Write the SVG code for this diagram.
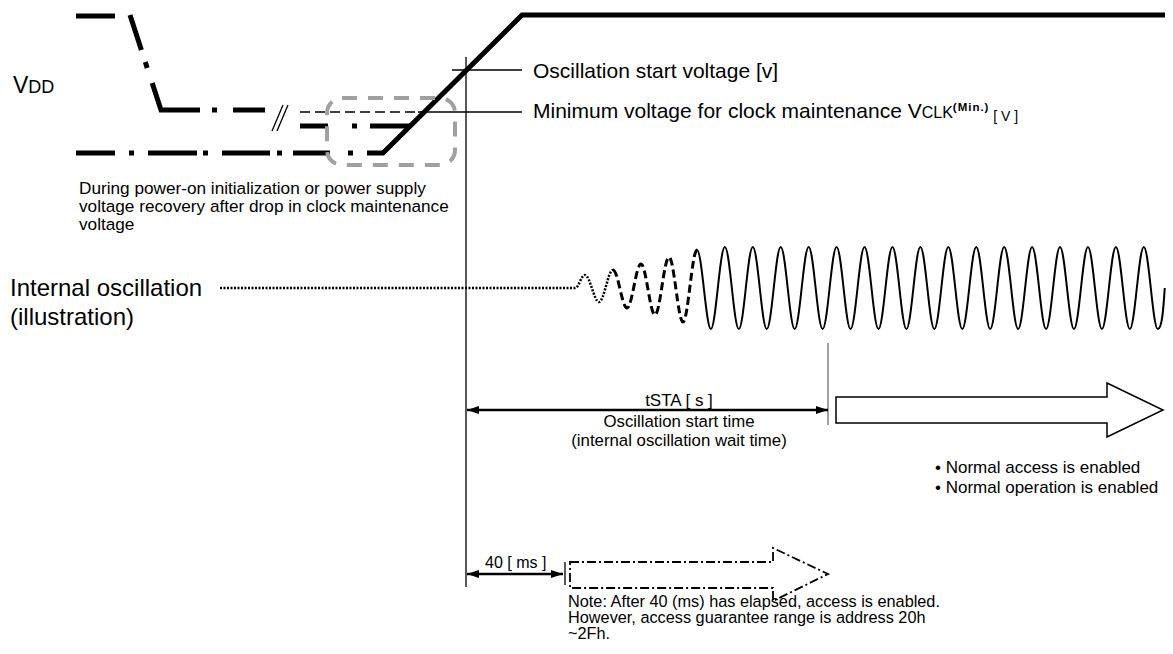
<svg xmlns="http://www.w3.org/2000/svg" width="1173" height="654" viewBox="0 0 1173 654">
<defs>
<style>
text{font-family:"Liberation Sans",Arial,sans-serif;fill:#000}
.thick{stroke:#000;stroke-width:5;fill:none;stroke-linecap:butt;stroke-linejoin:miter}
.thin{stroke:#000;stroke-width:1.3;fill:none}
.dim{stroke:#000;stroke-width:2.5;fill:none}
</style>
<marker id="ah" viewBox="0 0 12 8" refX="12" refY="4" markerWidth="12" markerHeight="8" markerUnits="userSpaceOnUse" orient="auto-start-reverse">
<path d="M0,0 L12,4 L0,8 Z" fill="#000"/>
</marker>
</defs>
<rect width="1173" height="654" fill="#fff"/>

<g id="vdd-waveform">
<line class="thick" x1="76" y1="16" x2="115" y2="16"/>
<line class="thick" x1="130" y1="15" x2="141.4" y2="50"/>
<line class="thick" x1="145.3" y1="62" x2="147.2" y2="68"/>
<path class="thick" d="M152.2,83 L161,110 L200,110"/>
<line class="thick" x1="212" y1="110" x2="217" y2="110"/>
<line class="thick" x1="233" y1="110" x2="265" y2="110"/>
<line class="thin" x1="272" y1="131" x2="283" y2="105"/>
<line class="thin" x1="277" y1="131" x2="288" y2="105"/>
<line class="thin" x1="300" y1="112" x2="424" y2="112" stroke-dasharray="10 5"/>
<line class="thick" x1="300" y1="126" x2="328" y2="126"/>
<line class="thick" x1="352" y1="126" x2="357" y2="126"/>
<line class="thick" x1="370" y1="126" x2="410" y2="126"/>
<line class="thick" x1="76" y1="153" x2="115" y2="153"/>
<line class="thick" x1="129" y1="153" x2="134" y2="153"/>
<line class="thick" x1="148" y1="153" x2="197" y2="153"/>
<line class="thick" x1="203" y1="153" x2="208" y2="153"/>
<line class="thick" x1="222" y1="153" x2="270" y2="153"/>
<line class="thick" x1="277" y1="153" x2="282" y2="153"/>
<line class="thick" x1="293" y1="153" x2="330" y2="153"/>
<line class="thick" x1="348" y1="153" x2="353" y2="153"/>
<path class="thick" d="M367,153 L383,153 L522,15 L1165,15"/>
<rect x="327" y="98" width="128" height="67" rx="15" ry="15" fill="none" stroke="#a0a0a0" stroke-width="4" stroke-dasharray="15 11"/>
<text x="13" y="93"><tspan font-size="23">V</tspan><tspan font-size="18">DD</tspan></text>
<text font-size="17.2"><tspan x="79" y="193.5">During power-on initialization or power supply</tspan><tspan x="79" y="211.5">voltage recovery after drop in clock maintenance</tspan><tspan x="79" y="229.5">voltage</tspan></text>
</g>

<g id="osc-start-label">
<text x="533" y="78" font-size="21">Oscillation start voltage [v]</text>
</g>
<g id="min-voltage-label">
<text x="533" y="118" font-size="21">Minimum voltage for clock maintenance V<tspan font-size="16">CLK</tspan><tspan font-size="11.5" font-weight="bold" dy="-7" letter-spacing="1">(Min.)</tspan><tspan font-size="14" dy="10"> [ V ]</tspan></text>
</g>

<g id="internal-oscillation">
<text font-size="24"><tspan x="10" y="296">Internal oscillation</tspan><tspan x="10" y="325">(illustration)</tspan></text>
<path d="M220,288 H575 C579,288 581,275 585,275 C590,275 594,302 599,302 C604,302 608,270 613,270" fill="none" stroke="#000" stroke-width="2.5" stroke-dasharray="2 1.5"/>
<path d="M613,270 C618,270 622,308 627,308 C632,308 636,264 641,264 C646,264 650,315 655,315 C660,315 664,257 669,257 C674,257 678,322 683,322 C688,322 692,250 697,250" fill="none" stroke="#000" stroke-width="3" stroke-dasharray="8 4"/>
<path d="M697,250 C702,250 706,329 710.9,329 s8.88,-82 13.965,-82 s8.88,82 13.965,82 s8.88,-82 13.965,-82 s8.88,82 13.965,82 s8.88,-82 13.965,-82 s8.88,82 13.965,82 s8.88,-82 13.965,-82 s8.88,82 13.965,82 s8.88,-82 13.965,-82 s8.88,82 13.965,82 s8.88,-82 13.965,-82 s8.88,82 13.965,82 s8.88,-82 13.965,-82 s8.88,82 13.965,82 s8.88,-82 13.965,-82 s8.88,82 13.965,82 s8.88,-82 13.965,-82 s8.88,82 13.965,82 s8.88,-82 13.965,-82 s8.88,82 13.965,82 s8.88,-82 13.965,-82 s8.88,82 13.965,82 s8.88,-82 13.965,-82 s8.88,82 13.965,82 s8.88,-82 13.965,-82 s8.88,82 13.965,82 s8.88,-82 13.965,-82 s8.88,82 13.965,82 s8.88,-82 13.965,-82 s8.88,82 13.965,82 s8.88,-82 13.965,-82 s8.88,82 13.965,82 s6,-30 7,-41" fill="none" stroke="#000" stroke-width="2"/>
</g>

<g id="connectors">
<line class="thin" x1="466" y1="57" x2="466" y2="587"/>
<line class="thin" x1="452" y1="70" x2="522" y2="70"/>
<line class="thin" x1="418" y1="112" x2="522" y2="112"/>
<line x1="828" y1="343" x2="828" y2="425" stroke="#808080" stroke-width="1.5"/>
<line class="dim" x1="467" y1="410" x2="828" y2="410" marker-start="url(#ah)" marker-end="url(#ah)"/>
<line class="dim" x1="467" y1="574" x2="563" y2="574" marker-start="url(#ah)" marker-end="url(#ah)"/>
<line class="thin" x1="565" y1="562" x2="565" y2="585"/>
</g>

<g id="tsta-label">
<text x="679" y="406" font-size="17" text-anchor="middle">tSTA [ s ]</text>
<text x="679" y="427" font-size="16.8" text-anchor="middle">Oscillation start time</text>
<text x="679" y="446" font-size="16.8" text-anchor="middle">(internal oscillation wait time)</text>
</g>

<g id="normal-access-arrow">
<path d="M836,397 H1107 V383 L1163,410 L1107,437 V423 H836 Z" fill="#fff" stroke="#000" stroke-width="1.5"/>
<text font-size="17"><tspan x="935" y="473">• Normal access is enabled</tspan><tspan x="935" y="493">• Normal operation is enabled</tspan></text>
</g>

<g id="ms40">
<text x="485" y="568" font-size="16">40 [ ms ]</text>
<path d="M570,562 H773 V548 L828,574 L773,601 V588 H570 Z" fill="none" stroke="#000" stroke-width="1.8" stroke-dasharray="9 3 2 3"/>
<text font-size="16.3"><tspan x="568" y="607">Note: After 40 (ms) has elapsed, access is enabled.</tspan><tspan x="568" y="623">However, access guarantee range is address 20h</tspan><tspan x="568" y="639">~2Fh.</tspan></text>
</g>
</svg>
